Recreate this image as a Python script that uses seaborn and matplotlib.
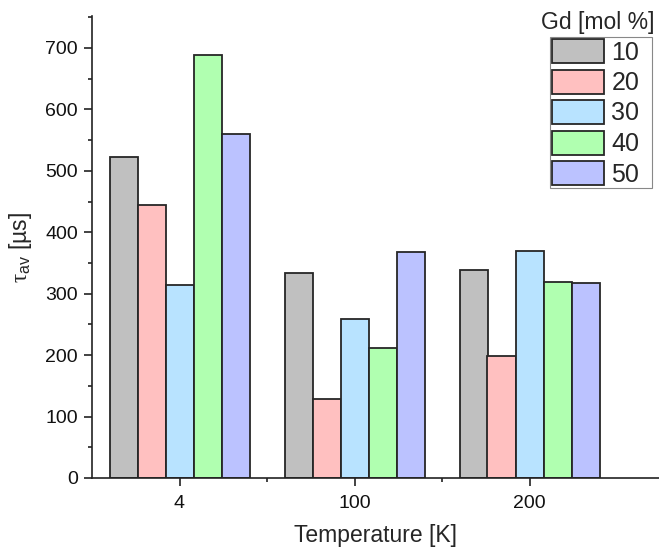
import matplotlib
matplotlib.use("Agg")
import matplotlib.pyplot as plt
from matplotlib.ticker import MultipleLocator, FixedLocator
from matplotlib.patches import Rectangle
import seaborn as sns
import pandas as pd

# Average decay time per temperature and Gd concentration
temperatures = ["4", "100", "200"]
gd_levels = ["10", "20", "30", "40", "50"]
tau_10 = [523, 333, 338]
tau_20 = [444, 128, 199]
tau_30 = [314, 258, 370]
tau_40 = [688, 212, 319]
tau_50 = [560, 368, 317]
colors = ["#C0C0C0", "#FFC0C0", "#B8E3FF", "#B0FFB0", "#BBC2FF"]

series = [tau_10, tau_20, tau_30, tau_40, tau_50]
rows = []
for gd, vals in zip(gd_levels, series):
    for t, v in zip(temperatures, vals):
        rows.append({"Temperature": t, "Gd": gd, "tau": v})
df = pd.DataFrame(rows)

sns.set_style("ticks")
plt.rcParams["font.family"] = ["Liberation Sans", "DejaVu Sans"]
plt.rcParams["mathtext.fontset"] = "custom"
plt.rcParams["mathtext.rm"] = "Liberation Serif"
plt.rcParams["mathtext.sf"] = "Liberation Sans"

W, H = 659, 550
fig = plt.figure(figsize=(W / 100, H / 100), dpi=100)
ax = fig.add_axes([92 / W, 72 / H, 1 - 92 / W, (478 - 16) / H])

sns.barplot(data=df, x="Temperature", y="tau", hue="Gd", order=temperatures,
            hue_order=gd_levels, palette=colors, width=0.8,
            edgecolor="#262626", linewidth=1.3, saturation=1, ax=ax, legend=True)

ax.set_xlim(-0.5, 2.74)
ax.set_ylim(0, 752)
ax.yaxis.set_major_locator(MultipleLocator(100))
ax.yaxis.set_minor_locator(MultipleLocator(50))
ax.xaxis.set_minor_locator(FixedLocator([0.5, 1.5]))
ax.tick_params(axis="both", which="major", direction="out", length=6, width=1.2,
               labelsize=14, color="#222222", labelcolor="#111111", pad=4)
ax.tick_params(axis="both", which="minor", direction="out", length=3.2, width=1.2,
               color="#222222")
ax.tick_params(axis="x", pad=6)
for side in ["top", "right"]:
    ax.spines[side].set_visible(False)
for side in ["left", "bottom"]:
    ax.spines[side].set_linewidth(1.2)
    ax.spines[side].set_color("#222222")

ax.set_xlabel("Temperature [K]", fontsize=16.5, labelpad=9)
ax.set_ylabel(r"$\mathrm{τ}_{\mathsf{av}}$ [µs]", fontsize=16.5, labelpad=8)

# Legend entries without frame; the box is drawn separately below the title
handles, labels = ax.get_legend_handles_labels()
leg = ax.legend(handles, labels, loc="upper left",
                bbox_to_anchor=(552 / W, 1 - 39 / H),
                bbox_transform=fig.transFigure, frameon=False,
                fontsize=18, handlelength=2.08, handleheight=1.1,
                labelspacing=0.2, borderpad=0, handletextpad=0.3, borderaxespad=0)
fig.patches.append(Rectangle((550 / W, 1 - 188 / H), 102 / W, 151 / H,
                             transform=fig.transFigure, fill=False,
                             edgecolor="#888888", linewidth=0.8))
fig.text(541 / W, 1 - 22 / H, "Gd [mol %]", fontsize=16.5, va="center", ha="left")

fig.savefig("out.png", dpi=100)
